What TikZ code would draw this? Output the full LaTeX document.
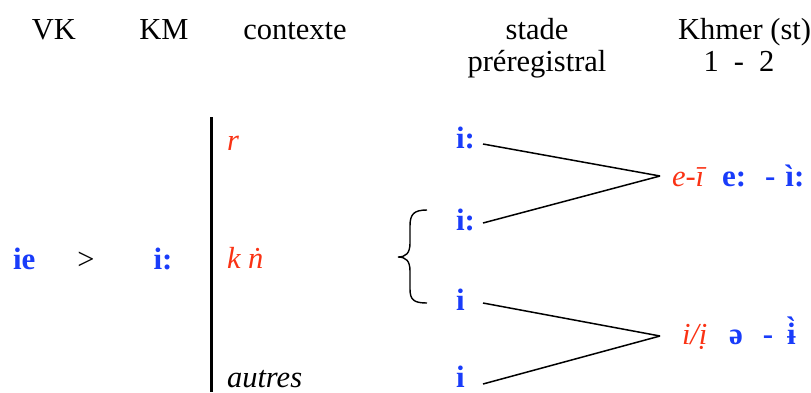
\documentclass[tikz,border=0pt]{standalone}
\usepackage{fontspec}
\setmainfont{Liberation Serif}[UprightFont=*, BoldFont=* Bold, ItalicFont=* Italic, BoldItalicFont=* Bold Italic]
\definecolor{ipablue}{RGB}{25,60,250}
\definecolor{ctxred}{RGB}{250,50,20}
\begin{document}
\begin{tikzpicture}[x=1pt,y=-1pt,
  every node/.style={inner sep=0pt, outer sep=0pt, font=\rmfamily\fontsize{30.5}{33}\selectfont},
  hdr/.style={anchor=base},
  ipa/.style={text=ipablue, font=\rmfamily\fontsize{31}{33}\selectfont\bfseries},
  ctx/.style={text=ctxred, font=\rmfamily\fontsize{30.5}{33}\selectfont\itshape},
  plainit/.style={font=\rmfamily\fontsize{30.5}{33}\selectfont\itshape},
  link/.style={line width=1.5pt},
  bar/.style={line width=3pt},
  bracepath/.style={line width=1.4pt}
]
\useasboundingbox (0,0) rectangle (811,392);
% headers
\node[hdr] (vk) at (54,39) {VK};
\node[hdr] (km) at (164,39) {KM};
\node[hdr] (ctxh) at (295,39) {contexte};
\node[hdr] (st1) at (537,39) {stade};
\node[hdr] (st2) at (537,71) {préregistral};
\node[anchor=base east] (kh1) at (811,39) {Khmer (st)};
\node[hdr] (kh2) at (739,71) {1\hspace{15pt}-\hspace{15pt}2};
% main row
\node[ipa, anchor=base west] (ie) at (13,269) {ie};
\node[hdr] (gt) at (86,269) {>};
\node[ipa, anchor=base] (km1) at (163,269) {i:};
% vertical bar
\coordinate (vtop) at (211,117);
\coordinate (vbot) at (211,392);
\draw[bar] (vtop) -- (vbot);
% contexts
\node[ctx, anchor=base west] (cr) at (227,150) {r};
\node[ctx, anchor=base west] (ckn) at (227,268) {k ṅ};
\node[plainit, anchor=base west] (cau) at (227,387) {autres};
% preregister stage
\node[ipa, anchor=base west] (p1) at (456,148) {i:};
\node[ipa, anchor=base west] (p2) at (456,230) {i:};
\node[ipa, anchor=base west] (p3) at (456,310) {i};
\node[ipa, anchor=base west] (p4) at (456,387) {i};
% brace
\draw[bracepath] (427,210) .. controls (414,210) and (410,214) .. (410,226)
  -- (410,243) .. controls (410,253) and (406,257) .. (398,257)
  .. controls (406,257) and (410,261) .. (410,271)
  -- (410,289) .. controls (410,300) and (414,303) .. (427,303);
% connectors
\coordinate (s1) at (483,144);
\coordinate (s2) at (483,223);
\coordinate (s3) at (483,303);
\coordinate (s4) at (483,384);
\coordinate (t1) at (660,176);
\coordinate (t2) at (660,336);
\draw[link] (s1) -- (t1);
\draw[link] (s2) -- (t1);
\draw[link] (s3) -- (t2);
\draw[link] (s4) -- (t2);
% results
\node[ctx, anchor=base west] (r1) at (672,186) {e-ī};
\node[ipa, anchor=base west] (k1) at (722,186) {e:\hspace{19pt}-\hspace{10pt}ì:};
\node[ctx, anchor=base west] (r2) at (682,344) {i/ị};
\node[ipa, anchor=base west] (k2) at (729,344) {ə\hspace{20pt}-\hspace{14pt}ɨ̀};
\end{tikzpicture}
\end{document}
